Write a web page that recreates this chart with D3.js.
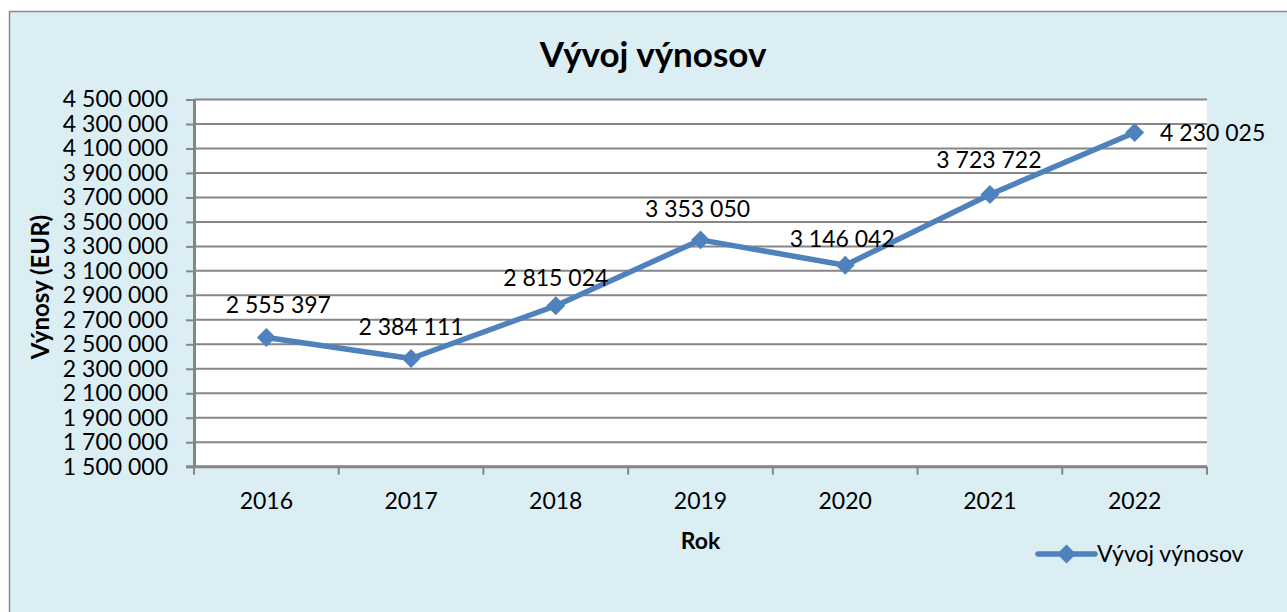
<!DOCTYPE html>
<html>
<head>
<meta charset="utf-8">
<script src="https://cdn.jsdelivr.net/npm/d3@7"></script>
<style>
  html, body { margin: 0; padding: 0; background: #ffffff; }
  text { font-family: Lato, "Open Sans", sans-serif; fill: #000; }
</style>
</head>
<body>
<div id="chart"></div>
<script>
// data
const years = ['2016', '2017', '2018', '2019', '2020', '2021', '2022'];
const revenues = [2555397, 2384111, 2815024, 3353050, 3146042, 3723722, 4230025];
const yTicks = [1500000, 1700000, 1900000, 2100000, 2300000, 2500000, 2700000, 2900000,
  3100000, 3300000, 3500000, 3700000, 3900000, 4100000, 4300000, 4500000];
const seriesName = 'Vývoj výnosov';

const width = 1287, height = 612;
const plot = { left: 194, right: 1207, top: 99.5, bottom: 466.7 };
const blue = '#4F81BD', grey = '#868686';

// data label offsets (label center x, baseline y) relative to the point
const labelShift = [[12, -25], [0, -23], [0, -20], [-3, -23], [-3, -18], [-1, -27], [78, 8]];

// thousands separated by a space
const fmt = v => d3.format(',')(v).replace(/,/g, ' ');

const svg = d3.select('#chart')
  .append('svg')
  .attr('width', width)
  .attr('height', height);

// chart area
svg.append('rect')
  .attr('x', 9.5).attr('y', 11.5)
  .attr('width', width + 20).attr('height', height + 20)
  .attr('fill', '#DBEEF4')
  .attr('stroke', '#8a8a8a')
  .attr('stroke-width', 1.5);

// plot area
svg.append('rect')
  .attr('x', plot.left).attr('y', plot.top)
  .attr('width', plot.right - plot.left).attr('height', plot.bottom - plot.top)
  .attr('fill', '#ffffff');

let xScale = d3.scaleBand()
  .domain(years)
  .range([plot.left, plot.right]);

let yScale = d3.scaleLinear()
  .domain([1500000, 4500000])
  .range([plot.bottom, plot.top]);

// gridlines
svg.append('g')
  .selectAll('line')
  .data(yTicks)
  .join('line')
  .attr('x1', plot.left).attr('x2', plot.right)
  .attr('y1', d => yScale(d)).attr('y2', d => yScale(d))
  .attr('stroke', grey)
  .attr('stroke-width', 2);

// y axis
const yAxis = svg.append('g')
  .attr('transform', `translate(${plot.left},0)`)
  .call(d3.axisLeft(yScale).tickValues(yTicks).tickFormat(fmt).tickSizeInner(8).tickSizeOuter(0).tickPadding(18));
yAxis.select('.domain').attr('stroke', grey).attr('stroke-width', 3);
yAxis.selectAll('.tick line').attr('stroke', grey).attr('stroke-width', 2);
yAxis.selectAll('.tick text')
  .attr('font-size', 23)
  .attr('font-family', 'Lato, "Open Sans", sans-serif')
  .attr('fill', '#000');

// x axis: ticks between categories
const xAxisG = svg.append('g')
  .attr('transform', `translate(0,${plot.bottom})`);
xAxisG.append('line')
  .attr('x1', plot.left - 8).attr('x2', plot.right)
  .attr('stroke', grey).attr('stroke-width', 3);
const bounds = years.map(y => xScale(y)).concat([plot.right]);
xAxisG.selectAll('.xtick')
  .data(bounds)
  .join('line')
  .attr('class', 'xtick')
  .attr('x1', d => d).attr('x2', d => d)
  .attr('y1', 0).attr('y2', 8)
  .attr('stroke', grey).attr('stroke-width', 2);
xAxisG.selectAll('.xlabel')
  .data(years)
  .join('text')
  .attr('class', 'xlabel')
  .attr('x', d => xScale(d) + xScale.bandwidth() / 2)
  .attr('y', 42)
  .attr('text-anchor', 'middle')
  .attr('font-size', 23)
  .text(d => d);

// series line
const cx = (d, i) => xScale(years[i]) + xScale.bandwidth() / 2;
const line = d3.line()
  .x((d, i) => cx(d, i))
  .y(d => yScale(d));

svg.append('path')
  .datum(revenues)
  .attr('d', line)
  .attr('fill', 'none')
  .attr('stroke', blue)
  .attr('stroke-width', 5.5)
  .attr('stroke-linejoin', 'round');

const diamond = d3.symbol().type(d3.symbolSquare).size(180);
svg.append('g')
  .selectAll('path')
  .data(revenues)
  .join('path')
  .attr('d', diamond)
  .attr('transform', (d, i) => `translate(${cx(d, i)},${yScale(d)}) rotate(45)`)
  .attr('fill', blue);

// data labels
svg.append('g')
  .selectAll('text')
  .data(revenues)
  .join('text')
  .attr('x', (d, i) => cx(d, i) + labelShift[i][0])
  .attr('y', (d, i) => yScale(d) + labelShift[i][1])
  .attr('text-anchor', 'middle')
  .attr('font-size', 23)
  .text(fmt);

// title
svg.append('text')
  .attr('x', 653)
  .attr('y', 67)
  .attr('text-anchor', 'middle')
  .attr('font-size', 35)
  .attr('font-weight', 'bold')
  .text('Vývoj výnosov');

// x axis title
svg.append('text')
  .attr('x', (plot.left + plot.right) / 2)
  .attr('y', 549)
  .attr('text-anchor', 'middle')
  .attr('font-size', 23)
  .attr('font-weight', 'bold')
  .text('Rok');

// y axis title
svg.append('text')
  .attr('transform', `translate(49,${(plot.top + plot.bottom) / 2 + 4}) rotate(-90)`)
  .attr('text-anchor', 'middle')
  .attr('font-size', 24)
  .attr('font-weight', 'bold')
  .text('Výnosy (EUR)');

// legend
const legend = svg.append('g').attr('transform', 'translate(1038,554)');
legend.append('line')
  .attr('x1', 0).attr('x2', 57)
  .attr('stroke', blue).attr('stroke-width', 5.5)
  .attr('stroke-linecap', 'round');
legend.append('path')
  .attr('d', diamond)
  .attr('transform', 'translate(28.5,0) rotate(45)')
  .attr('fill', blue);
legend.append('text')
  .attr('x', 59)
  .attr('y', 8)
  .attr('font-size', 23)
  .text(seriesName);
</script>
</body>
</html>
